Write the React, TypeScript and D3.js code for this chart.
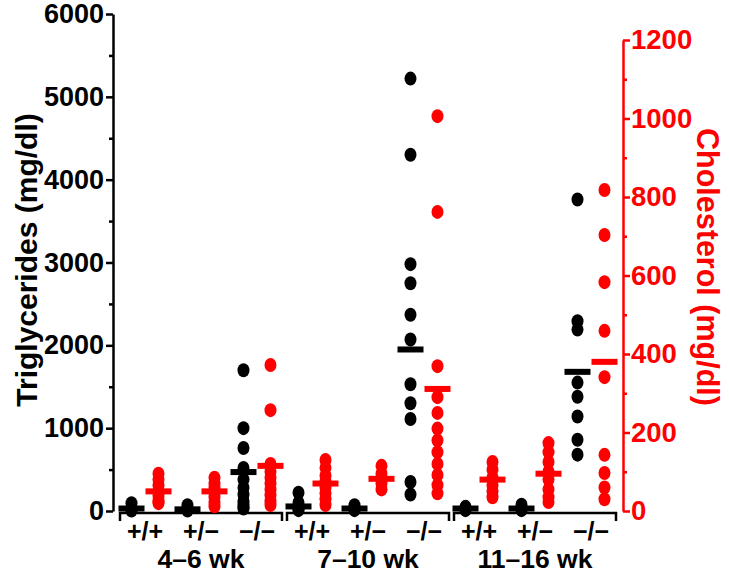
import { useEffect, useRef } from "react";
import * as d3 from "d3";

// groups on the x axis and genotypes inside each group
const groups = ["4–6 wk", "7–10 wk", "11–16 wk"];
const genotypes = ["+/+", "+/−", "−/−"];
const series = ["tg", "chol"];

// triglycerides (mg/dl), one array per genotype, per age group
const tg46 = [
  [95, 40, 20, 10, 5],
  [70, 30, 15, 5],
  [1700, 1000, 760, 520, 380, 280, 200, 120, 80, 50, 30],
];
const tg710 = [
  [220, 100, 50, 25, 10],
  [70, 40, 20, 10],
  [5220, 4300, 2980, 2750, 2370, 2070, 1530, 1300, 1110, 350, 200],
];
const tg1116 = [
  [50, 35, 20, 10],
  [75, 40, 20, 10],
  [3760, 2290, 2190, 1550, 1380, 1140, 860, 680],
];
const tgMeans = [
  [30, 20, 470],
  [55, 30, 1950],
  [30, 30, 1680],
];

// cholesterol (mg/dl)
const chol46 = [
  [95, 80, 65, 50, 38, 25, 20],
  [85, 70, 60, 48, 35, 22, 12],
  [372, 257, 120, 100, 85, 70, 55, 40, 25, 15],
];
const chol710 = [
  [130, 110, 90, 75, 60, 45, 30, 15],
  [115, 95, 80, 70, 55],
  [1006, 762, 369, 290, 250, 210, 180, 150, 120, 92, 66, 45],
];
const chol1116 = [
  [125, 105, 85, 65, 50, 35],
  [173, 150, 125, 100, 80, 55, 35, 23],
  [818, 703, 583, 459, 341, 143, 97, 60, 30],
];
const cholMeans = [
  [50, 50, 115],
  [70, 82, 311],
  [80, 95, 380],
];

const tgTicks = [0, 1000, 2000, 3000, 4000, 5000, 6000];
const tgMinor = [500, 1500, 2500, 3500, 4500, 5500];
const cholTicks = [0, 200, 400, 600, 800, 1000, 1200];
const cholMinor = [100, 300, 500, 700, 900, 1100];

const RED = "#ff0000";
const FONT = "'Liberation Sans', Arial, Helvetica, sans-serif";

function App() {
  const leftRef = useRef<SVGGElement>(null);
  const rightRef = useRef<SVGGElement>(null);

  const width = 729;
  const height = 573;

  // scales
  const yTG = d3.scaleLinear().domain([0, 6000]).range([511, 14]);
  const yChol = d3.scaleLinear().domain([0, 1200]).range([511, 40]);
  const xGroup = d3.scaleBand().domain(groups).range([120, 616]).paddingInner(0.03);
  const xGeno = d3
    .scalePoint()
    .domain(genotypes)
    .range([25, xGroup.bandwidth() - 25]);
  const xSeries = d3.scalePoint().domain(series).range([-13.5, 13.5]);

  const tgData = [tg46, tg710, tg1116];
  const cholData = [chol46, chol710, chol1116];

  const colX = (g: number, k: number, s: string) =>
    (xGroup(groups[g]) ?? 0) + (xGeno(genotypes[k]) ?? 0) + (xSeries(s) ?? 0);

  useEffect(() => {
    // left axis (triglycerides)
    const left = d3.select(leftRef.current);
    left.selectAll("*").remove();
    left.call(
      d3.axisLeft(yTG).tickValues(tgTicks).tickSize(7).tickSizeOuter(0).tickPadding(2).tickFormat(d3.format("d"))
    );
    left
      .append("g")
      .call(d3.axisLeft(yTG).tickValues(tgMinor).tickSize(4).tickSizeOuter(0).tickFormat(() => ""))
      .select(".domain")
      .remove();
    left.selectAll("path, line").attr("stroke", "#000").attr("stroke-width", 2.5);
    left
      .selectAll("text")
      .attr("font-family", FONT)
      .attr("font-weight", "bold")
      .attr("font-size", 27)
      .attr("fill", "#000");

    // right axis (cholesterol)
    const right = d3.select(rightRef.current);
    right.selectAll("*").remove();
    right.call(
      d3.axisRight(yChol).tickValues(cholTicks).tickSize(7).tickSizeOuter(0).tickPadding(1).tickFormat(d3.format("d"))
    );
    right
      .append("g")
      .call(d3.axisRight(yChol).tickValues(cholMinor).tickSize(4).tickSizeOuter(0).tickFormat(() => ""))
      .select(".domain")
      .remove();
    right.selectAll("path, line").attr("stroke", RED).attr("stroke-width", 2.5);
    right
      .selectAll("text")
      .attr("font-family", FONT)
      .attr("font-weight", "bold")
      .attr("font-size", 27.5)
      .attr("fill", RED);
  }, []);

  return (
    <svg
      width={width}
      height={height}
      style={{ position: "absolute", left: 0, top: 0, background: "#fff" }}
    >
      <g ref={leftRef} transform="translate(113,0)" />
      <g ref={rightRef} transform="translate(623,0)" />

      {/* axis titles */}
      <text
        transform="translate(37,260) rotate(-90)"
        textAnchor="middle"
        fontFamily={FONT}
        fontWeight="bold"
        fontSize={30}
        fill="#000"
      >
        Triglycerides (mg/dl)
      </text>
      <text
        transform="translate(697,267) rotate(90)"
        textAnchor="middle"
        fontFamily={FONT}
        fontWeight="bold"
        fontSize={30.5}
        fill={RED}
      >
        Cholesterol (mg/dl)
      </text>

      {/* group brackets and labels */}
      {groups.map((g) => {
        const x0 = xGroup(g) ?? 0;
        const x1 = x0 + xGroup.bandwidth();
        return (
          <g key={g}>
            <path
              d={`M${x0},521V513H${x1}V521`}
              fill="none"
              stroke="#000"
              strokeWidth={2.5}
            />
            {genotypes.map((k) => (
              <text
                key={k}
                x={x0 + (xGeno(k) ?? 0)}
                y={540}
                textAnchor="middle"
                fontFamily={FONT}
                fontWeight="bold"
                fontSize={25}
              >
                {k}
              </text>
            ))}
            <text
              x={(x0 + x1) / 2}
              y={568}
              textAnchor="middle"
              fontFamily={FONT}
              fontWeight="bold"
              fontSize={26.5}
            >
              {g}
            </text>
          </g>
        );
      })}

      {/* points and mean bars */}
      {groups.map((g, gi) =>
        genotypes.map((k, ki) => (
          <g key={`${g}-${k}`}>
            {tgData[gi][ki].map((v, i) => (
              <ellipse key={`t${i}`} cx={colX(gi, ki, "tg")} cy={yTG(v)} rx={6} ry={7} fill="#000" />
            ))}
            {cholData[gi][ki].map((v, i) => (
              <ellipse key={`c${i}`} cx={colX(gi, ki, "chol")} cy={yChol(v)} rx={6} ry={7} fill={RED} />
            ))}
            <rect
              x={colX(gi, ki, "tg") - 13}
              y={yTG(tgMeans[gi][ki]) - 3}
              width={26}
              height={6}
              fill="#000"
            />
            <rect
              x={colX(gi, ki, "chol") - 13}
              y={yChol(cholMeans[gi][ki]) - 3}
              width={26}
              height={6}
              fill={RED}
            />
          </g>
        ))
      )}
    </svg>
  );
}

export default App;
